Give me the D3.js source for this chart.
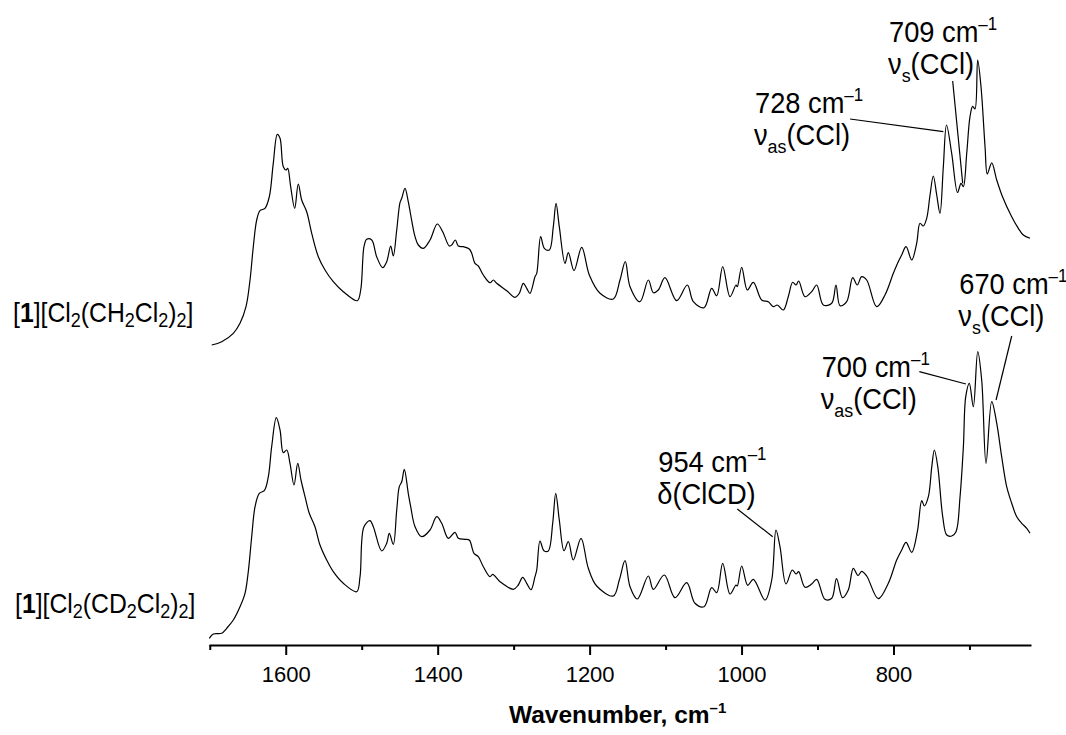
<!DOCTYPE html>
<html>
<head>
<meta charset="utf-8">
<script src="https://cdn.jsdelivr.net/npm/d3@7"></script>
<style>
  body { margin: 0; background: #fff; }
  svg text { font-family: "Liberation Sans", Arial, sans-serif; fill: #000; }
</style>
</head>
<body>
<div class="chart"></div>
<script>
const width = 1066, height = 735;

// [wavenumber, intensity (a.u.)], upper trace (CH2Cl2)
const topSpectrum = [
  [1697.4,300],[1684.3,303.3],[1669,311.7],[1660.2,321.7],[1652.3,338.3],[1647,365],[1642.7,398.3],[1638.2,425],
  [1633.9,434.3],[1627.3,436.7],[1621.6,448.3],[1616.4,481.7],[1611.1,510.7],[1607.5,506.7],[1603.2,478.3],[1599.6,475],
  [1597.4,476.7],[1593.5,458.3],[1588.2,436.7],[1583.5,461],[1579,445],[1572.4,433.3],[1565.8,411.7],[1557.1,388.3],
  [1548.3,375],[1537.4,363.3],[1524.2,353.3],[1505.8,344.3],[1501.3,355],[1497,398.3],[1493.4,405.7],[1486.8,405],
  [1480.3,388.3],[1472.4,377.3],[1467.1,383.3],[1461.8,399],[1458.4,389],[1453.9,415],[1449.6,442.3],[1447.3,446.7],
  [1443,456.7],[1438.7,443.3],[1435.5,430],[1429.8,408.3],[1425.5,400],[1418.9,396.7],[1410.1,405],[1400.5,421],
  [1393.4,413.3],[1384.7,399],[1381.5,400],[1376.8,405],[1372.8,399],[1366.3,398.3],[1358.4,396],[1355.2,391.7],
  [1350.9,381.7],[1346.5,379],[1339.9,370],[1331.1,362.3],[1326.8,365],[1322.3,361.7],[1309.1,354.3],[1298.2,347.7],
  [1292.5,351.7],[1287.3,361.7],[1282.8,356.7],[1278.5,351.7],[1271.9,368.3],[1269.6,371.7],[1264.4,408.3],[1259.6,396.7],
  [1253,395],[1247.8,418.3],[1244.2,441.7],[1239.9,418.3],[1232.4,381.7],[1228,392.3],[1220.5,374.3],[1210.4,397.7],
  [1200.4,370],[1186.3,351.7],[1168.8,346],[1160,365],[1153,383.3],[1146.8,358.3],[1133.7,343.3],[1122.7,365],
  [1116.1,352.3],[1109.6,355],[1100.8,367.3],[1085.4,344.3],[1071.4,360],[1063.5,343.3],[1049.4,337.3],[1039.3,356.7],
  [1032.7,349.3],[1024.8,378.3],[1015.2,348.3],[1007.3,360],[1005.6,358.3],[999.8,377.7],[992.4,355],[984.5,362.7],
  [973.5,345],[964.8,343.3],[958.2,338.3],[952.9,340],[945,335],[938.5,348.3],[932.7,362.7],[928.3,360],
  [924.8,364],[916.5,348.3],[907.7,353.3],[901.1,360],[892.4,340],[881.3,341.7],[875.7,360],[870.4,339.3],
  [861.6,343.3],[853.7,367.3],[847.7,360],[841.9,368.3],[835.3,365],[822.1,338.3],[811.2,350],[800.2,371.7],
  [793.7,383.3],[789.2,390],[783.5,398.3],[776,385],[769.5,401.7],[765.1,421.7],[760.8,419],[756.3,426.7],
  [751.9,450],[747.6,469],[743.1,450],[738.8,431.7],[734.4,478.3],[730.2,520],[723.4,491.7],[715.7,452.5],
  [711.1,461.7],[708.1,458.3],[703.6,491.7],[699.3,528.3],[695.8,538.7],[692.7,536],[689.2,585],[684.8,558.3],
  [679.5,498.3],[676.5,471],[670.7,482.2],[664.1,465],[656.5,448.3],[644.4,428.3],[635.7,416.7],[629.1,410],[620.3,406.7]
];

// lower trace (CD2Cl2)
const bottomSpectrum = [
  [1700.6,6.7],[1695.3,11],[1684.3,11.7],[1677.7,16.7],[1669,25],[1660.2,38.3],[1653.6,51.7],[1649.3,73.3],
  [1644.8,108.3],[1640.4,138.3],[1634.8,151.7],[1628.2,154.3],[1622.9,168.3],[1618.5,198.3],[1612.4,227.3],[1607.5,215],
  [1603.2,192.3],[1598.7,195],[1594.4,181.7],[1589.1,160],[1584.2,181.7],[1579.9,165],[1574.6,148.3],[1569,131.7],
  [1561.5,118.3],[1554.9,100],[1546.1,85],[1537.4,73.3],[1524.2,61.7],[1506.6,53.3],[1502.2,68.3],[1497,118.3],
  [1489.1,124.3],[1484.7,118.3],[1473.7,94],[1467.1,101.7],[1463.7,111.7],[1458.4,100.7],[1453.9,135],[1450.5,158.3],
  [1447.3,163.3],[1443.9,175.7],[1438.7,151.7],[1435.5,138.3],[1429.8,118.3],[1421,108.3],[1410.1,115],[1401.3,128.3],
  [1394.7,121.7],[1386,106.7],[1377.2,112.7],[1372.8,106.7],[1364,105.7],[1358.4,105],[1352.2,91.7],[1346.5,88.3],
  [1339.9,78.3],[1331.1,68.3],[1327.6,70.7],[1317.9,63.3],[1300.4,55.7],[1293.9,60],[1288.1,67.7],[1282.8,61.7],
  [1277.1,55.3],[1271.9,68.3],[1269.6,75],[1265.3,104],[1260.1,94.3],[1254.4,94],[1248.6,121.7],[1244.6,151.7],
  [1239.9,125],[1233.7,94.3],[1228,103.3],[1221.5,85],[1211.3,106.7],[1201.7,76.7],[1190.7,59],[1168.8,49],
  [1160.9,65],[1153.4,84.3],[1146.8,58.3],[1137.2,46],[1122.7,69],[1116.1,55.7],[1101.7,70],[1087.6,47.3],
  [1072.2,62.3],[1061.3,41.7],[1049.4,38.3],[1039.3,57.3],[1032.7,52.3],[1024.8,81.7],[1015.2,51],[1007.3,60],
  [1005.6,59],[999.8,79],[991.9,59.7],[984.5,65.7],[969.1,45],[960.3,65],[954.7,115],[949.4,98.3],
  [941.5,61],[933.2,75],[928.3,71],[924.8,73.3],[916.5,57.7],[907.7,61],[901.1,65.7],[890.2,45.7],
  [881.3,46.7],[875,66.3],[867.1,47.3],[859.5,55],[852.9,76.7],[846.7,69.5],[841.9,73.7],[835.3,69],
  [820,46.3],[806.8,61.7],[795.8,85],[789.2,95],[783.5,102.7],[776,92.7],[768.6,113.3],[762.8,144.3],
  [759.4,139],[754.1,148.3],[749.6,178.3],[746.2,195],[741.7,178.3],[735.2,128.3],[729.9,110],[723.3,109],
  [717.7,113.3],[712.4,148.3],[708,198.3],[704.9,248.3],[700.2,261.7],[694.9,238.3],[689.1,293.3],[683.9,265],
  [678.2,181.7],[670.7,243.3],[664.1,221.7],[657.6,188.3],[651,158.3],[644.4,141.7],[637.8,128.3],[631.2,121.7],
  [624.6,116.7],[620.3,111.7]
];

const majorTicks = [1600, 1400, 1200, 1000, 800];
const minorTicks = [1700, 1500, 1300, 1100, 900, 700];
const isotopes = ["H", "D"];

// peak notes: first line value, second line mode
const noteValues = ["728", "709", "700", "670", "954"];
const noteModes = [["ν", "as", "(CCl)"], ["ν", "s", "(CCl)"], ["ν", "as", "(CCl)"], ["ν", "s", "(CCl)"], ["δ(ClCD)", "", ""]];
// where each note sits (text anchor and leader line, in wavenumber / intensity)
const notePlace = [
  {tx: 982.3, ty: 531.7, x1: 857.2, y1: 526, x2: 734.4, y2: 513.3},
  {tx: 805.9, ty: 603.3, x1: 722.1, y1: 564, x2: 708.9, y2: 461.7},
  {tx: 894.5, ty: 268.3, x1: 766, y1: 273.3, x2: 704.6, y2: 261},
  {tx: 713.4, ty: 351, x1: 644.4, y1: 309, x2: 665, y2: 245},
  {tx: 1109.6, ty: 173.3, x1: 1005.6, y1: 136, x2: 959, y2: 108.3}
];
const labelPlace = [{x: 13, y: 323.5}, {x: 15, y: 32}];

const svg = d3.select(".chart").append("svg")
  .attr("width", width)
  .attr("height", height);

const xScale = d3.scaleLinear().domain([1701, 619]).range([209, 1031]);
const yScale = d3.scaleLinear().domain([0, 600]).range([645, 45]);

const line = d3.line()
  .x(d => xScale(d[0]))
  .y(d => yScale(d[1]))
  .curve(d3.curveCatmullRom.alpha(0.5));

[topSpectrum, bottomSpectrum].forEach(s => {
  svg.append("path")
    .datum(s)
    .attr("d", line)
    .attr("fill", "none")
    .attr("stroke", "#000")
    .attr("stroke-width", 1.2)
    .attr("stroke-linejoin", "round");
});

// x axis: labelled major ticks and short minor ticks
const xAxis = d3.axisBottom(xScale)
  .tickValues(majorTicks)
  .tickSize(10)
  .tickSizeOuter(0)
  .tickPadding(11)
  .tickFormat(d3.format("d"));

const gx = svg.append("g")
  .attr("class", "axis x-axis")
  .attr("transform", "translate(0,645)")
  .call(xAxis);
gx.select(".domain").attr("stroke-width", 2);
gx.selectAll(".tick line").attr("stroke-width", 2);
gx.selectAll(".tick text").attr("font-size", 22).attr("fill", "#000");

const gMinor = svg.append("g")
  .attr("transform", "translate(0,645)")
  .call(d3.axisBottom(xScale).tickValues(minorTicks).tickSize(5).tickFormat(""));
gMinor.select(".domain").remove();
gMinor.selectAll(".tick line").attr("stroke-width", 2);

// axis title
const title = svg.append("text")
  .attr("x", 509)
  .attr("y", 723)
  .attr("font-size", 24.5)
  .attr("font-weight", "bold")
  .text("Wavenumber, cm");
title.append("tspan").attr("font-size", 15).attr("dy", -10).text("–1");

// narrow-looking text: scale horizontally inside a positioned group
function narrowText(x, y, sx) {
  return svg.append("g")
    .attr("transform", `translate(${x},${y}) scale(${sx},1)`)
    .append("text");
}

// sample labels on the left
isotopes.forEach((iso, i) => {
  const parts = [
    ["[", 0], ["1", "b"], ["][Cl", 0], ["2", "s"], ["(C" + iso, 0], ["2", "s"],
    ["Cl", 0], ["2", "s"], [")", 0], ["2", "s"], ["]", 0]
  ];
  const t = narrowText(labelPlace[i].x, yScale(labelPlace[i].y), 0.9)
    .attr("font-size", 27.5);
  let low = false;
  parts.forEach(([str, kind]) => {
    const sp = t.append("tspan").text(str);
    if (kind === "s") {
      sp.attr("font-size", 20).attr("dy", low ? 0 : 5);
      low = true;
    } else {
      if (low) sp.attr("dy", -5);
      low = false;
      if (kind === "b") sp.attr("font-weight", "bold");
    }
  });
});

// peak annotations
noteValues.forEach((val, i) => {
  const p = notePlace[i];
  svg.append("line")
    .attr("x1", xScale(p.x1)).attr("y1", yScale(p.y1))
    .attr("x2", xScale(p.x2)).attr("y2", yScale(p.y2))
    .attr("stroke", "#000")
    .attr("stroke-width", 1.2);

  const x = xScale(p.tx), y = yScale(p.ty);
  const t1 = narrowText(x, y, 0.94).attr("font-size", 29).text(val + " cm");
  t1.append("tspan").attr("font-size", 18).attr("dy", -12).text("–1");

  const m = noteModes[i];
  const t2 = narrowText(x - 1, y + 32, 0.94).attr("font-size", 29).text(m[0]);
  if (m[1]) {
    t2.append("tspan").attr("font-size", 19).attr("dy", 8).text(m[1]);
    t2.append("tspan").attr("dy", -8).text(m[2]);
  }
});
</script>
</body>
</html>
